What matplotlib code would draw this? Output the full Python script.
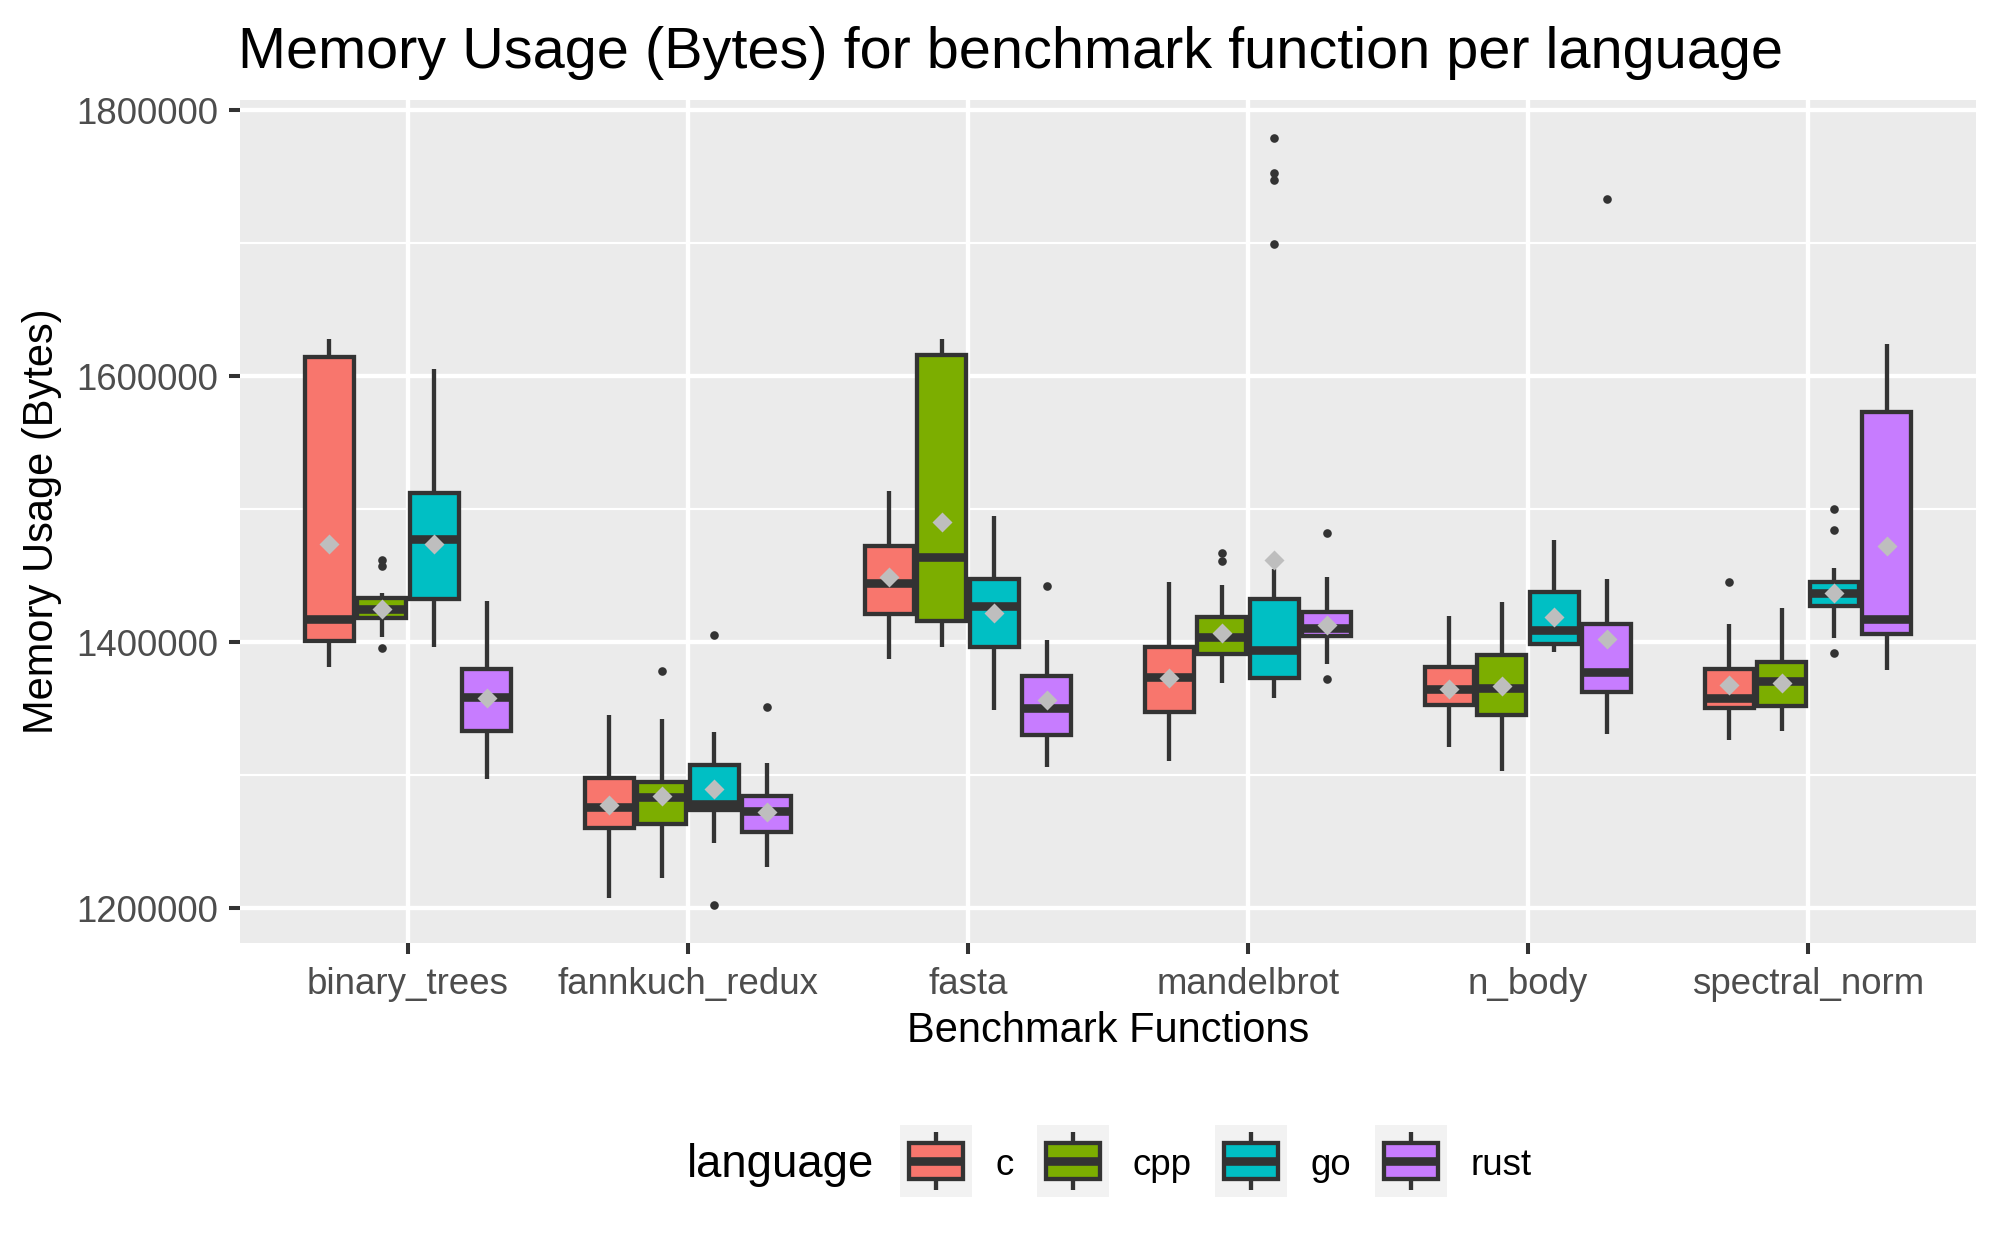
import matplotlib
matplotlib.use("Agg")
import matplotlib.pyplot as plt
from matplotlib.patches import Rectangle
from matplotlib.lines import Line2D

plt.rcParams['font.family'] = ['Liberation Sans', 'DejaVu Sans']

# ---------------- data (bytes) ----------------
benchmarks = ["binary_trees", "fannkuch_redux", "fasta", "mandelbrot", "n_body", "spectral_norm"]
languages = ["c", "cpp", "go", "rust"]
lang_colors = ["#F8766D", "#7CAE00", "#00BFC4", "#C77CFF"]

# each row: one benchmark, columns: c, cpp, go, rust
whisker_low = [
    [1381000, 1404000, 1396300, 1297100],
    [1207900, 1222700, 1249300, 1231200],
    [1387100, 1396300, 1348800, 1305900],
    [1310500, 1369700, 1358300, 1383400],
    [1321600, 1302900, 1392300, 1330800],
    [1326200, 1332900, 1403400, 1378900],
]
q1_values = [
    [1401000, 1418000, 1432500, 1332900],
    [1260600, 1263100, 1273500, 1257600],
    [1421400, 1415600, 1396600, 1330500],
    [1347600, 1391100, 1373300, 1404600],
    [1352800, 1345200, 1398800, 1362600],
    [1350400, 1352200, 1427200, 1406400],
]
median_values = [
    [1417700, 1424600, 1477800, 1358900],
    [1276000, 1283300, 1278500, 1272900],
    [1444700, 1464300, 1427200, 1350400],
    [1374000, 1404000, 1394200, 1411000],
    [1365100, 1365700, 1409500, 1377300],
    [1357800, 1370600, 1437000, 1417600],
]
q3_values = [
    [1614700, 1433000, 1512100, 1379800],
    [1297700, 1295200, 1307800, 1284500],
    [1472600, 1615900, 1447500, 1374400],
    [1396600, 1419000, 1432500, 1422700],
    [1381000, 1390500, 1437700, 1413800],
    [1380100, 1385000, 1445300, 1572700],
]
whisker_high = [
    [1627600, 1437000, 1605500, 1430900],
    [1345200, 1342100, 1332300, 1309000],
    [1513600, 1627600, 1494600, 1401800],
    [1445300, 1442900, 1455400, 1449300],
    [1419600, 1430600, 1477000, 1447800],
    [1413500, 1425400, 1456000, 1624500],
]
mean_values = [
    [1473800, 1424800, 1473800, 1358000],
    [1277800, 1284500, 1290000, 1272300],
    [1448700, 1490600, 1422300, 1356800],
    [1373300, 1407000, 1461600, 1413200],
    [1365100, 1367200, 1419300, 1402700],
    [1368100, 1369000, 1437000, 1472000],
]
outliers = [
    [[], [1461600, 1457000, 1395400], [], []],
    [[], [1378200], [1405200, 1202700], [1351300]],
    [[], [], [], [1441900]],
    [[], [1467100, 1461000], [1778800, 1752700, 1747200, 1699300], [1481800, 1372100]],
    [[], [], [], [1733000]],
    [[1445600], [], [1500500, 1484500, 1391700], []],
]

y_major_ticks = [1200000, 1400000, 1600000, 1800000]
y_minor_ticks = [1300000, 1500000, 1700000]
y_tick_labels = ["1200000", "1400000", "1600000", "1800000"]

title = "Memory Usage (Bytes) for benchmark function per language"
x_title = "Benchmark Functions"
y_title = "Memory Usage (Bytes)"
legend_title = "language"

# ---------------- figure ----------------
W, H = 1999, 1237
fig = plt.figure(figsize=(W / 100, H / 100), dpi=100)
fig.patch.set_facecolor("white")

pl, pr, pt, pb = 240, 1976, 100, 943
ax = fig.add_axes([pl / W, 1 - pb / H, (pr - pl) / W, (pb - pt) / H])
ax.set_facecolor("#EBEBEB")
for s in ax.spines.values():
    s.set_visible(False)

dodge = 0.1875
box_w = 0.175
dark = "#333333"

stats, positions, colors = [], [], []
for i in range(len(benchmarks)):
    for j in range(len(languages)):
        stats.append(dict(
            med=median_values[i][j], q1=q1_values[i][j], q3=q3_values[i][j],
            whislo=whisker_low[i][j], whishi=whisker_high[i][j],
            mean=mean_values[i][j], fliers=outliers[i][j]))
        positions.append(i + 1 + (j - 1.5) * dodge)
        colors.append(lang_colors[j])

bp = ax.bxp(stats, positions=positions, widths=box_w, patch_artist=True,
            showmeans=True, showcaps=False, manage_ticks=False,
            boxprops=dict(edgecolor=dark, linewidth=3.1),
            medianprops=dict(color=dark, linewidth=6.2, solid_capstyle="butt"),
            whiskerprops=dict(color=dark, linewidth=3.1, solid_capstyle="butt"),
            flierprops=dict(marker="o", markerfacecolor=dark, markeredgecolor="none",
                            markersize=6.2),
            meanprops=dict(marker="D", markerfacecolor="#BEBEBE", markeredgecolor="none",
                           markersize=10.4),
            zorder=3)
for patch, c in zip(bp["boxes"], colors):
    patch.set_facecolor(c)

all_vals = [v for row in whisker_low for v in row] + [v for row in whisker_high for v in row] \
    + [v for row in outliers for cell in row for v in cell] + [v for row in mean_values for v in row]
vmin, vmax = min(all_vals), max(all_vals)
ext = (vmax - vmin) * 0.05
ax.set_ylim(vmin - ext, vmax + ext)
ax.set_xlim(0.4, len(benchmarks) + 0.6)

ax.set_yticks(y_major_ticks)
ax.set_yticklabels(y_tick_labels)
ax.set_yticks(y_minor_ticks, minor=True)
ax.set_xticks(range(1, len(benchmarks) + 1))
ax.set_xticklabels(benchmarks)

ax.set_axisbelow(True)
ax.grid(which="major", color="white", linewidth=3.1)
ax.grid(which="minor", axis="y", color="white", linewidth=1.55)
ax.tick_params(which="minor", length=0)
ax.tick_params(which="major", length=7.9, width=2.9, color=dark,
               labelcolor="#4D4D4D", labelsize=26.4)
ax.tick_params(axis="y", pad=7.9)
ax.tick_params(axis="x", pad=9.2)

fig.text(238 / W, 1 - 68 / H, title, fontsize=41.5, ha="left", va="baseline", color="black")
fig.text((pl + pr) / 2 / W, 1 - 1042 / H, x_title, fontsize=30, ha="center", va="baseline")
fig.text(42 / W, 1 - (pt + pb) / 2 / H, y_title, fontsize=30, ha="center", va="center",
         rotation=90)

# ---------------- legend (pixel-coordinate overlay) ----------------
lax = fig.add_axes([0, 0, 1, 1], zorder=-1)
lax.set_xlim(0, W)
lax.set_ylim(H, 0)
lax.axis("off")
lax.patch.set_alpha(0)

lax.text(687, 1177, legend_title, fontsize=32.8, ha="left", va="baseline")
key_x = [900, 1037, 1215, 1375]
key_top, key_size = 1125, 72
for kx, lab, c in zip(key_x, languages, lang_colors):
    lax.add_patch(Rectangle((kx, key_top), key_size, key_size, facecolor="#F2F2F2",
                            edgecolor="none"))
    cx = kx + key_size / 2
    lax.add_line(Line2D([cx, cx], [key_top + 0.1 * key_size, key_top + 0.9 * key_size],
                        color=dark, linewidth=3.1, solid_capstyle="butt"))
    lax.add_patch(Rectangle((kx + 0.125 * key_size, key_top + 0.25 * key_size),
                            0.75 * key_size, 0.5 * key_size, facecolor=c,
                            edgecolor=dark, linewidth=3.1, zorder=3))
    lax.add_line(Line2D([kx + 0.125 * key_size, kx + 0.875 * key_size],
                        [key_top + 0.5 * key_size] * 2, color=dark, linewidth=6.2,
                        solid_capstyle="butt", zorder=4))
    lax.text(kx + key_size + 24, 1175, lab, fontsize=26.4, ha="left", va="baseline")

fig.savefig("out.png", dpi=100)
